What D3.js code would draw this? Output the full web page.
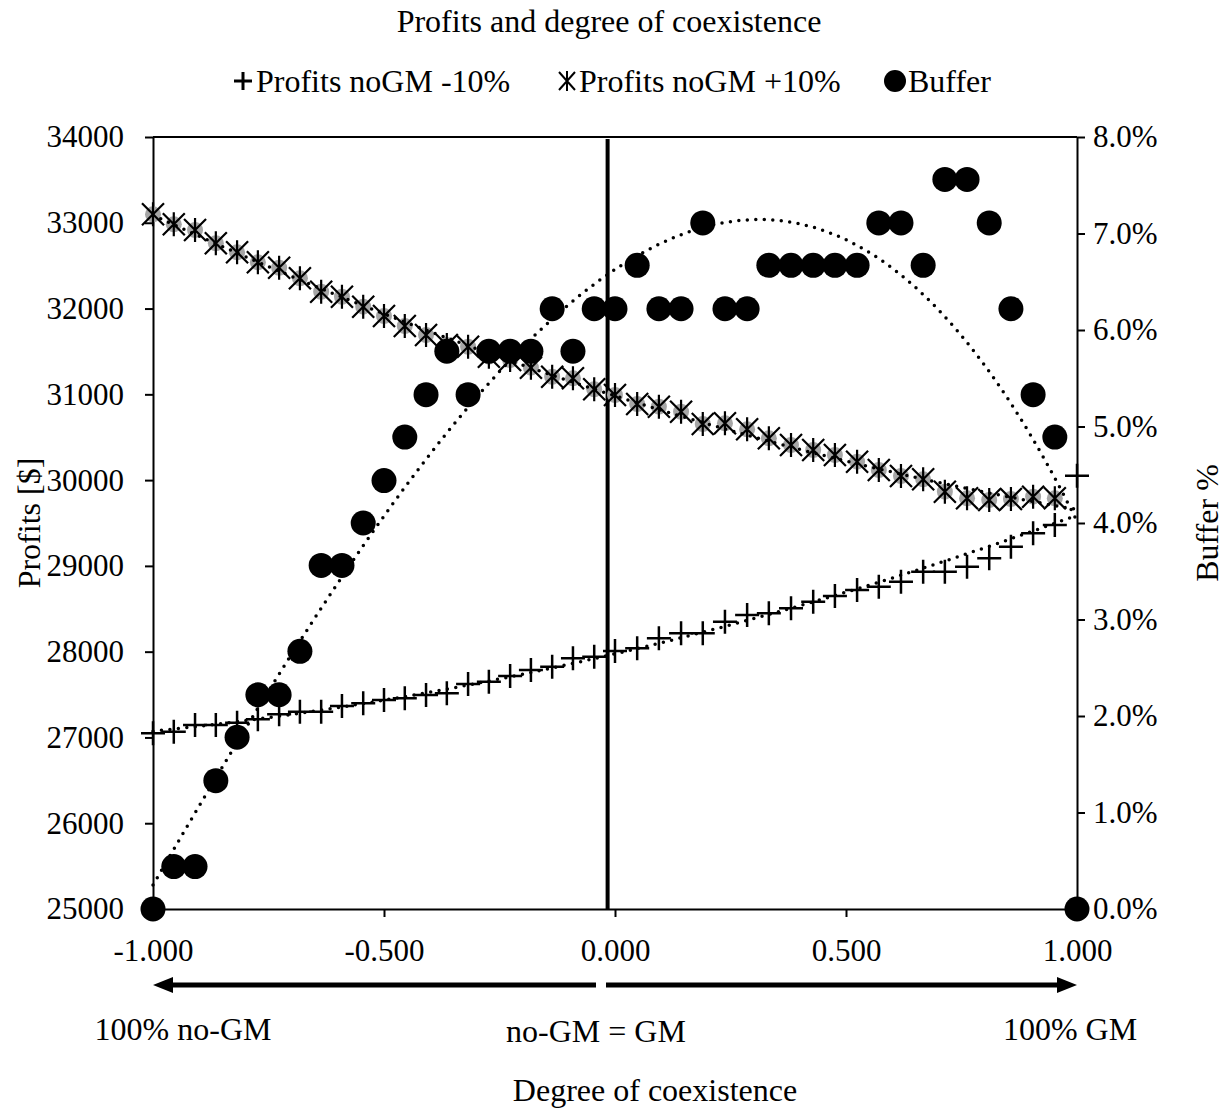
<!DOCTYPE html>
<html>
<head>
<meta charset="utf-8">
<script src="https://cdn.jsdelivr.net/npm/d3@7"></script>
<style>
  body { margin: 0; background: #fff; }
  text { font-family: "Liberation Serif", "Times New Roman", serif; fill: #000; }
</style>
</head>
<body>
<div id="chart"></div>
<script>
// degree of coexistence (x) for every point
var coexistence = [
  -1.000, -0.955, -0.909, -0.864, -0.818, -0.773, -0.727, -0.682, -0.636, -0.591, -0.545, -0.500,
  -0.455, -0.409, -0.364, -0.318, -0.273, -0.227, -0.182, -0.136, -0.091, -0.045, 0.000,
  0.048, 0.095, 0.143, 0.190, 0.238, 0.286, 0.333, 0.381, 0.429, 0.476, 0.524, 0.571,
  0.619, 0.667, 0.714, 0.762, 0.810, 0.857, 0.905, 0.952, 1.000
];

var profitsMinus10 = [
  27048, 27067, 27145, 27145, 27172, 27212, 27270, 27300, 27300, 27367, 27398, 27437,
  27456, 27495, 27515, 27623, 27650, 27716, 27786, 27825, 27923, 27941, 28008,
  28039, 28156, 28214, 28214, 28349, 28427, 28447, 28506, 28583, 28649, 28719, 28757,
  28816, 28932, 28932, 28991, 29088, 29224, 29380, 29477, 30050
];

// no point at x = 1 for this series
var profitsPlus10 = [
  33099, 32982, 32916, 32761, 32656, 32539, 32476, 32353, 32196, 32138, 32022, 31913,
  31797, 31692, 31575, 31555, 31439, 31400, 31311, 31205, 31187, 31059, 30992,
  30887, 30856, 30797, 30654, 30662, 30592, 30487, 30409, 30351, 30293, 30215, 30118,
  30048, 30009, 29865, 29788, 29768, 29780, 29807, 29788
];

// buffer in %
var bufferPct = [
  0.00, 0.44, 0.44, 1.33, 1.78, 2.22, 2.22, 2.67, 3.56, 3.56, 4.00, 4.44,
  4.89, 5.33, 5.78, 5.33, 5.78, 5.78, 5.78, 6.22, 5.78, 6.22, 6.22,
  6.67, 6.22, 6.22, 7.11, 6.22, 6.22, 6.67, 6.67, 6.67, 6.67, 6.67, 7.11,
  7.11, 6.67, 7.56, 7.56, 7.11, 6.22, 5.33, 4.89, 0.00
];

var profitTicks = [25000, 26000, 27000, 28000, 29000, 30000, 31000, 32000, 33000, 34000];
var bufferTicks = [0, 1, 2, 3, 4, 5, 6, 7, 8];
var coexTicks = [-1, -0.5, 0, 0.5, 1];
var equalLineX = -0.016;

var width = 1227, height = 1109;

var svg = d3.select('#chart')
  .append('svg')
  .attr('width', width)
  .attr('height', height);

var x = d3.scaleLinear().domain([-1, 1]).range([153, 1077]);
var y = d3.scaleLinear().domain([25000, 34000]).range([909, 137]);
var y2 = d3.scaleLinear().domain([0, 8]).range([909, 137]);

// least squares polynomial, like the spreadsheet trendline
function polyFit(xs, ys, degree) {
  var n = degree + 1;
  var A = [], b = [];
  for (var r = 0; r < n; r++) {
    A.push([]);
    for (var c = 0; c < n; c++) {
      A[r].push(d3.sum(xs, function (v) { return Math.pow(v, r + c); }));
    }
    b.push(d3.sum(xs, function (v, i) { return Math.pow(v, r) * ys[i]; }));
  }
  for (var k = 0; k < n; k++) {
    for (var r2 = k + 1; r2 < n; r2++) {
      var f = A[r2][k] / A[k][k];
      for (var c2 = k; c2 < n; c2++) A[r2][c2] -= f * A[k][c2];
      b[r2] -= f * b[k];
    }
  }
  var coef = new Array(n);
  for (var i = n - 1; i >= 0; i--) {
    var s = b[i];
    for (var j = i + 1; j < n; j++) s -= A[i][j] * coef[j];
    coef[i] = s / A[i][i];
  }
  return function (v) {
    return coef.reduce(function (acc, cf, p) { return acc + cf * Math.pow(v, p); }, 0);
  };
}

function styleAxis(g, size) {
  g.selectAll('text')
    .style('font-family', '"Liberation Serif", "Times New Roman", serif')
    .style('font-size', size + 'px')
    .attr('fill', '#000');
  g.selectAll('line').attr('stroke', '#000').attr('stroke-width', 2);
  g.select('.domain').attr('stroke', '#000').attr('stroke-width', 2);
}

// axes
var gLeft = svg.append('g')
  .attr('transform', 'translate(' + x(-1) + ',0)')
  .call(d3.axisLeft(y).tickValues(profitTicks).tickSize(8).tickSizeOuter(0).tickPadding(21)
    .tickFormat(function (d) { return String(d); }));
styleAxis(gLeft, 31);

var gRight = svg.append('g')
  .attr('transform', 'translate(' + x(1) + ',0)')
  .call(d3.axisRight(y2).tickValues(bufferTicks).tickSize(8).tickSizeOuter(0).tickPadding(8)
    .tickFormat(function (d) { return d.toFixed(1) + '%'; }));
styleAxis(gRight, 31);

var gBottom = svg.append('g')
  .attr('transform', 'translate(0,' + y(25000) + ')')
  .call(d3.axisBottom(x).tickValues(coexTicks).tickSize(8).tickSizeOuter(0).tickPadding(22)
    .tickFormat(function (d) { return d.toFixed(3); }));
styleAxis(gBottom, 31);

svg.append('line')
  .attr('x1', x(-1)).attr('x2', x(1))
  .attr('y1', y(34000)).attr('y2', y(34000))
  .attr('stroke', '#000').attr('stroke-width', 2);

// no-GM = GM line
svg.append('line')
  .attr('x1', x(equalLineX)).attr('x2', x(equalLineX))
  .attr('y1', y(34000) + 2).attr('y2', y(25000))
  .attr('stroke', '#000').attr('stroke-width', 4);

var plusPath = 'M-12,0H12M0,-12V12';
var starPath = 'M-11,-11L11,11M-11,11L11,-11M0,-12V12';

// -10% series
svg.append('g').selectAll('path')
  .data(profitsMinus10)
  .enter()
  .append('path')
  .attr('transform', function (d, i) { return 'translate(' + x(coexistence[i]) + ',' + y(d) + ')'; })
  .attr('d', plusPath)
  .attr('stroke', '#000')
  .attr('stroke-width', 2.5)
  .attr('fill', 'none');

// +10% series
var stars = svg.append('g').selectAll('g')
  .data(profitsPlus10)
  .enter()
  .append('g')
  .attr('transform', function (d, i) { return 'translate(' + x(coexistence[i]) + ',' + y(d) + ')'; });
stars.append('circle').attr('r', 8).attr('fill', '#a6a6a6');
stars.append('path')
  .attr('d', starPath)
  .attr('stroke', '#000')
  .attr('stroke-width', 2.2)
  .attr('fill', 'none');

// buffer
svg.append('g').selectAll('circle')
  .data(bufferPct)
  .enter()
  .append('circle')
  .attr('cx', function (d, i) { return x(coexistence[i]); })
  .attr('cy', function (d) { return y2(d); })
  .attr('r', 12.5)
  .attr('fill', '#000');

// trend lines
var grid = d3.range(0, 201).map(function (i) { return -1 + i / 100; });

function drawTrend(fn, scale) {
  svg.append('path')
    .datum(grid)
    .attr('d', d3.line()
      .x(function (v) { return x(v); })
      .y(function (v) { return scale(fn(v)); }))
    .attr('fill', 'none')
    .attr('stroke', '#000')
    .attr('stroke-width', 3.5)
    .attr('stroke-linecap', 'round')
    .attr('stroke-dasharray', '0 8.5');
}

drawTrend(polyFit(coexistence, profitsMinus10, 2), y);
drawTrend(polyFit(coexistence.slice(0, profitsPlus10.length), profitsPlus10, 2), y);
drawTrend(polyFit(coexistence, bufferPct, 3), y2);

// titles
svg.append('text')
  .attr('x', 609).attr('y', 32)
  .attr('text-anchor', 'middle')
  .style('font-size', '32px')
  .text('Profits and degree of coexistence');

var legend = svg.append('g').attr('transform', 'translate(0,81)');
legend.append('path').attr('transform', 'translate(243,0)')
  .attr('d', 'M-9,0H9M0,-9V9').attr('stroke', '#000').attr('stroke-width', 3);
legend.append('text').attr('x', 256).attr('y', 11).style('font-size', '32px').text('Profits noGM -10%');
legend.append('path').attr('transform', 'translate(567,0)')
  .attr('d', 'M-8,-9L8,9M-8,9L8,-9M0,-10V10').attr('stroke', '#000').attr('stroke-width', 2).attr('fill', 'none');
legend.append('text').attr('x', 579).attr('y', 11).style('font-size', '32px').text('Profits noGM +10%');
legend.append('circle').attr('cx', 895).attr('cy', 0).attr('r', 11).attr('fill', '#000');
legend.append('text').attr('x', 908).attr('y', 11).style('font-size', '32px').text('Buffer');

svg.append('text')
  .attr('transform', 'translate(40,523) rotate(-90)')
  .attr('text-anchor', 'middle')
  .style('font-size', '32px')
  .text('Profits [$]');

svg.append('text')
  .attr('transform', 'translate(1218,523) rotate(-90)')
  .attr('text-anchor', 'middle')
  .style('font-size', '32px')
  .text('Buffer %');

// direction arrows
var arrowY = 985;
function arrow(fromX, tipX) {
  var dir = tipX > fromX ? 1 : -1;
  svg.append('line')
    .attr('x1', fromX).attr('x2', tipX - dir * 14)
    .attr('y1', arrowY).attr('y2', arrowY)
    .attr('stroke', '#000').attr('stroke-width', 5);
  svg.append('path')
    .attr('d', 'M' + tipX + ',' + arrowY + 'L' + (tipX - dir * 20) + ',' + (arrowY - 8) +
      'L' + (tipX - dir * 20) + ',' + (arrowY + 8) + 'Z')
    .attr('fill', '#000');
}
arrow(x(0) - 19, x(-1));
arrow(x(0) - 9, x(1));

svg.append('text').attr('x', 183).attr('y', 1040).attr('text-anchor', 'middle')
  .style('font-size', '32px').text('100% no-GM');
svg.append('text').attr('x', 596).attr('y', 1042).attr('text-anchor', 'middle')
  .style('font-size', '32px').text('no-GM = GM');
svg.append('text').attr('x', 1070).attr('y', 1040).attr('text-anchor', 'middle')
  .style('font-size', '32px').text('100% GM');
svg.append('text').attr('x', 655).attr('y', 1101).attr('text-anchor', 'middle')
  .style('font-size', '32px').text('Degree of coexistence');
</script>
</body>
</html>
